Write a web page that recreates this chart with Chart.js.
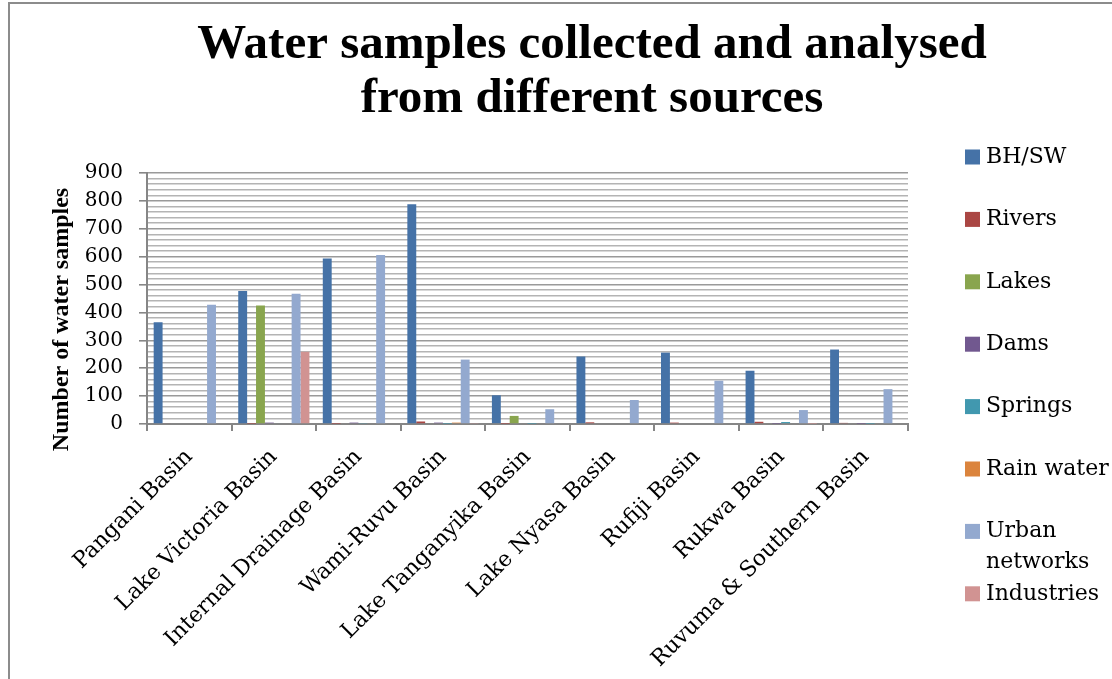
<!DOCTYPE html>
<html>
<head>
<meta charset="utf-8">
<script src="https://cdn.jsdelivr.net/npm/chart.js@4"></script>
<style>
  html, body { margin: 0; padding: 0; background: #fff; }
  #wrap { width: 1112px; height: 679px; position: relative; }
</style>
</head>
<body>
<div id="wrap"><canvas id="grafico"></canvas></div>
<script>
// Bacias (categorias)
const bacias = ["Pangani Basin", "Lake Victoria Basin", "Internal Drainage Basin", "Wami-Ruvu Basin",
  "Lake Tanganyika Basin", "Lake Nyasa Basin", "Rufiji Basin", "Rukwa Basin", "Ruvuma & Southern Basin"];

// Amostras por fonte
const bhSw          = [365, 477, 593, 788, 103, 242, 256, 191, 267];
const rivers        = [3, 1, 1, 9, 1, 6, 5, 8, 4];
const lakes         = [0, 425, 0, 0, 29, 0, 0, 0, 0];
const dams          = [0, 5, 5, 5, 0, 0, 0, 1, 1];
const springs       = [0, 3, 2, 1, 1, 0, 0, 7, 1];
const rainWater     = [0, 0, 0, 5, 0, 0, 0, 0, 0];
const urbanNetworks = [428, 467, 606, 231, 53, 86, 155, 50, 125];
const industries    = [0, 259, 0, 2, 0, 0, 0, 1, 0];

const fontes = ["BH/SW", "Rivers", "Lakes", "Dams", "Springs", "Rain water", "Urban networks", "Industries"];
const cores = ["#4572A7", "#AA4643", "#89A54E", "#71588F", "#4198AF", "#DB843D", "#93A9CF", "#D19392"];
const valores = [bhSw, rivers, lakes, dams, springs, rainWater, urbanNetworks, industries];

const yTicks = [0, 100, 200, 300, 400, 500, 600, 700, 800, 900];

const corpo = "'DejaVu Serif', serif";
const titulo = "'Liberation Serif', 'Times New Roman', serif";

// Moldura, título e legenda desenhados à mão
const extras = {
  id: "extras",
  beforeDraw(chart) {
    const c = chart.ctx;
    c.save();
    c.strokeStyle = "#8c8c8c";
    c.lineWidth = 2;
    c.beginPath();
    c.moveTo(9, chart.height);
    c.lineTo(9, 3);
    c.lineTo(chart.width, 3);
    c.stroke();
    c.restore();
  },
  afterDraw(chart) {
    const c = chart.ctx;
    c.save();
    c.fillStyle = "#000";
    c.textAlign = "center";
    c.textBaseline = "alphabetic";
    c.font = "bold 49px " + titulo;
    c.fillText("Water samples collected and analysed", 592, 58);
    c.fillText("from different sources", 592, 112);

    // legenda
    c.font = "22px " + corpo;
    c.textAlign = "left";
    c.textBaseline = "middle";
    chart.data.datasets.forEach((ds, i) => {
      const y = 157 + i * 62.4;
      c.fillStyle = ds.backgroundColor;
      c.fillRect(965, y - 7.5, 15, 15);
      c.fillStyle = "#000";
      let linhas = [ds.label];
      if (c.measureText(ds.label).width > 126) linhas = ds.label.split(" ");
      linhas.forEach((t, k) => c.fillText(t, 986, y + k * 31));
    });
    c.restore();
  }
};

const ctx = document.getElementById("grafico").getContext("2d");
const grafico = new Chart(ctx, {
  type: "bar",
  data: {
    labels: bacias,
    datasets: fontes.map((f, i) => ({
      label: f,
      data: valores[i],
      backgroundColor: cores[i],
      borderWidth: 0,
      categoryPercentage: 0.842,
      barPercentage: 1.0
    }))
  },
  options: {
    responsive: true,
    maintainAspectRatio: false,
    animation: false,
    layout: { padding: { left: 12, right: 204, top: 173, bottom: 0 } },
    plugins: {
      legend: { display: false },
      title: { display: false },
      tooltip: { enabled: false }
    },
    scales: {
      x: {
        afterFit(s) { s.height = 255; },
        grid: { display: true, offset: true, drawOnChartArea: false, drawTicks: true, tickLength: 7, color: "#868686", lineWidth: 2 },
        border: { color: "#868686", width: 2 },
        ticks: { color: "#000", font: { family: corpo, size: 22 }, minRotation: 45, maxRotation: 45, autoSkip: false, padding: 13 }
      },
      y: {
        min: 0,
        max: 900,
        afterFit(s) { s.width = 135; },
        afterBuildTicks(s) {
          // linhas menores a cada 20
          const t = [];
          for (let v = 0; v <= 900; v += 20) t.push({ value: v });
          s.ticks = t;
        },
        grid: {
          color: c => (c.tick && c.tick.value % 100 === 0) ? "#9a9a9a" : "#b4b4b4",
          tickColor: c => (c.tick && c.tick.value % 100 === 0) ? "#868686" : "rgba(0,0,0,0)",
          lineWidth: 1.6,
          tickLength: 8
        },
        border: { color: "#868686", width: 2 },
        ticks: {
          color: "#000",
          font: { family: corpo, size: 20 },
          padding: 16,
          autoSkip: false,
          callback: v => yTicks.includes(v) ? String(v) : ""
        },
        title: {
          display: true,
          text: "Number of water samples\u00a0\u00a0\u00a0\u00a0\u00a0\u00a0\u00a0",
          color: "#000",
          font: { family: titulo, size: 24, weight: "bold" },
          padding: { top: 35, bottom: 0 }
        }
      }
    }
  },
  plugins: [extras]
});
</script>
</body>
</html>
